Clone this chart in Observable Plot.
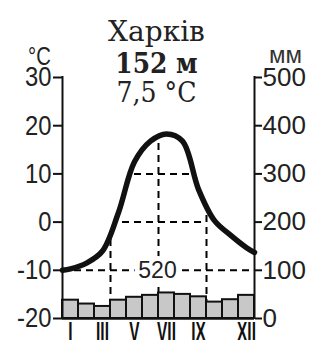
<!DOCTYPE html>
<html>
<head>
<meta charset="utf-8">
<script src="https://cdn.jsdelivr.net/npm/d3@7"></script>
<script src="https://cdn.jsdelivr.net/npm/@observablehq/plot@0.6"></script>
<style>
  html, body { margin: 0; padding: 0; background: #fff; overflow: hidden; }
  #chart svg { display: block; }
</style>
</head>
<body>
<div id="chart"></div>
<script>
// ---- data ----
const months = ["I","II","III","IV","V","VI","VII","VIII","IX","X","XI","XII"];
const temperature = [-9.7, -8.5, -6.0, 2.0, 12.5, 16.8, 18.3, 16.8, 6.8, 0.3, -2.7, -5.3]; // °C, monthly means
const temperatureEdges = [-10, -6.3]; // curve value at start of January and end of December
const precipitation = [38, 30, 25, 38, 44, 48, 53, 50, 45, 34, 39, 48]; // mm
const shownMonthLabels = ["I","III","V","VII","IX","XII"];
const tempTicks = [-20, -10, 0, 10, 20, 30];
const precipTicks = [0, 100, 200, 300, 400, 500];
const seasonBounds = [3, 6, 9];               // month boundaries with guide lines
const isotherms = [{t: 10, to: 12}, {t: 0, to: 9}];
const stationName = "Харків";
const elevation = "152 м";
const annualTemp = "7,5 °C";
const annualPrecip = "520";
const tempUnit = "°C";
const precipUnit = "мм";

// ---- derived ----
const toTempScale = p => p / 10 - 20;  // 100 mm ≙ 10 °C, 0 mm ≙ −20 °C
const curveData = [
  {m: 0, t: temperatureEdges[0]},
  ...temperature.map((t, i) => ({m: i + 0.5, t})),
  {m: months.length, t: temperatureEdges[1]}
];
const bars = precipitation.map((p, i) => ({i, p}));
const labelData = shownMonthLabels.map(l => ({m: months.indexOf(l) + 0.5, l}));
const yMin = tempTicks[0], yMax = tempTicks[tempTicks.length - 1];
const sans = "'Liberation Sans', Arial, sans-serif";
const serif = "'DejaVu Serif', 'Liberation Serif', serif";
const dash = "7,5";
const minus = d => d < 0 ? "-" + (-d) : String(d);

const chart = Plot.plot({
  width: 311,
  height: 340,
  marginLeft: 62,
  marginRight: 57,
  marginTop: 77,
  marginBottom: 22,
  x: {domain: [0, months.length], axis: null},
  y: {domain: [yMin, yMax], axis: null},
  style: {background: "white", color: "black", fontFamily: sans},
  marks: [
    // guide lines (masked above the curve)
    Plot.ruleX(seasonBounds, {x: d => d, y1: yMin, y2: yMax, stroke: "black", strokeWidth: 2, strokeDasharray: dash}),
    Plot.ruleY(isotherms, {y: "t", x1: 0, x2: "to", stroke: "black", strokeWidth: 2, strokeDasharray: dash}),
    Plot.areaY(curveData, {x: "m", y1: "t", y2: yMax, fill: "white", curve: "catmull-rom"}),
    // −10 line with annual precipitation
    Plot.ruleY([-10], {x1: 0, x2: months.length, stroke: "black", strokeWidth: 2, strokeDasharray: dash}),
    Plot.text([annualPrecip], {x: months.length / 2, y: -10, text: d => d, fontSize: 23, fontFamily: sans,
      fill: "#222", stroke: "white", strokeWidth: 10, paintOrder: "stroke", dx: -1}),
    // precipitation bars
    Plot.rect(bars, {x1: d => d.i, x2: d => d.i + 1, y1: toTempScale(0), y2: d => toTempScale(d.p),
      fill: "#c8c8c8", stroke: "#111", strokeWidth: 2}),
    // temperature curve
    Plot.line(curveData, {x: "m", y: "t", curve: "catmull-rom", stroke: "#111", strokeWidth: 5.5}),
    // frame lines
    Plot.ruleY([yMin], {x1: 0, x2: months.length, stroke: "#111", strokeWidth: 2.5}),
    Plot.ruleX([0, months.length], {y1: yMin, y2: yMax, stroke: "#111", strokeWidth: 2, strokeLinecap: "square"}),
    // axes
    Plot.axisY({anchor: "left", label: null, ticks: tempTicks, tickSize: 9, tickPadding: 2, stroke: "#111", strokeWidth: 2,
      fontSize: 28, fontFamily: sans, fill: "#222", tickFormat: minus}),
    Plot.axisY({anchor: "right", label: null, ticks: precipTicks.map(toTempScale), tickSize: 7, tickPadding: 1, stroke: "#111", strokeWidth: 2,
      fontSize: 26, fontFamily: sans, fill: "#222", tickFormat: d => String(Math.round((d + 20) * 10))}),
    // month labels
    Plot.text(labelData, {x: "m", y: yMin, text: "l", fontSize: 28, fontWeight: "bold", fontFamily: sans, fill: "#111",
      lineAnchor: "top", dy: 3, ariaLabel: () => "month-label"}),
    // units
    Plot.text([tempUnit], {frameAnchor: "top-left", text: d => d, dx: -23, dy: -13, lineAnchor: "bottom",
      textAnchor: "middle", fontSize: 26, fontFamily: sans, fill: "#222", ariaLabel: () => "temp-unit"}),
    Plot.text([precipUnit], {frameAnchor: "top-right", text: d => d, dx: 31, dy: -15, lineAnchor: "bottom",
      textAnchor: "middle", fontSize: 24, fontFamily: sans, fill: "#333"}),
    // titles
    Plot.text([stationName], {frameAnchor: "top", text: d => d, dx: -2, dy: -37, lineAnchor: "bottom",
      fontSize: 28, fontFamily: serif, fill: "#222"}),
    Plot.text([elevation], {frameAnchor: "top", text: d => d, dx: -2, dy: -5, lineAnchor: "bottom",
      fontSize: 28, fontFamily: serif, fontWeight: "bold", fill: "#222", ariaLabel: () => "elevation"}),
    Plot.text([annualTemp], {frameAnchor: "top", text: d => d, dx: -2, dy: 24, lineAnchor: "bottom",
      fontSize: 28, fontFamily: serif, fill: "#222", ariaLabel: () => "annual-temp"})
  ]
});

// horizontally condense some labels to match the narrow lettering of the original
function squeeze(selection, s) {
  selection.each(function() {
    const t = d3.select(this);
    const x = +t.attr("x") || 0, y = +t.attr("y") || 0;
    const tr = t.attr("transform") || "";
    t.attr("transform", `${tr} translate(${x},${y}) scale(${s},1) translate(${-x},${-y})`);
  });
}
const svg = d3.select(chart);
const yLabels = svg.selectAll('g[aria-label="y-axis tick label"]').nodes();
if (yLabels[0]) squeeze(d3.select(yLabels[0]).selectAll("text"), 0.85);
squeeze(svg.selectAll('text[aria-label="month-label"]'), 0.55);
squeeze(svg.selectAll('text[aria-label="temp-unit"]'), 0.78);
squeeze(svg.selectAll('text[aria-label="elevation"]'), 0.89);
squeeze(svg.selectAll('text[aria-label="annual-temp"]'), 0.9);

document.getElementById("chart").appendChild(chart);
</script>
</body>
</html>
